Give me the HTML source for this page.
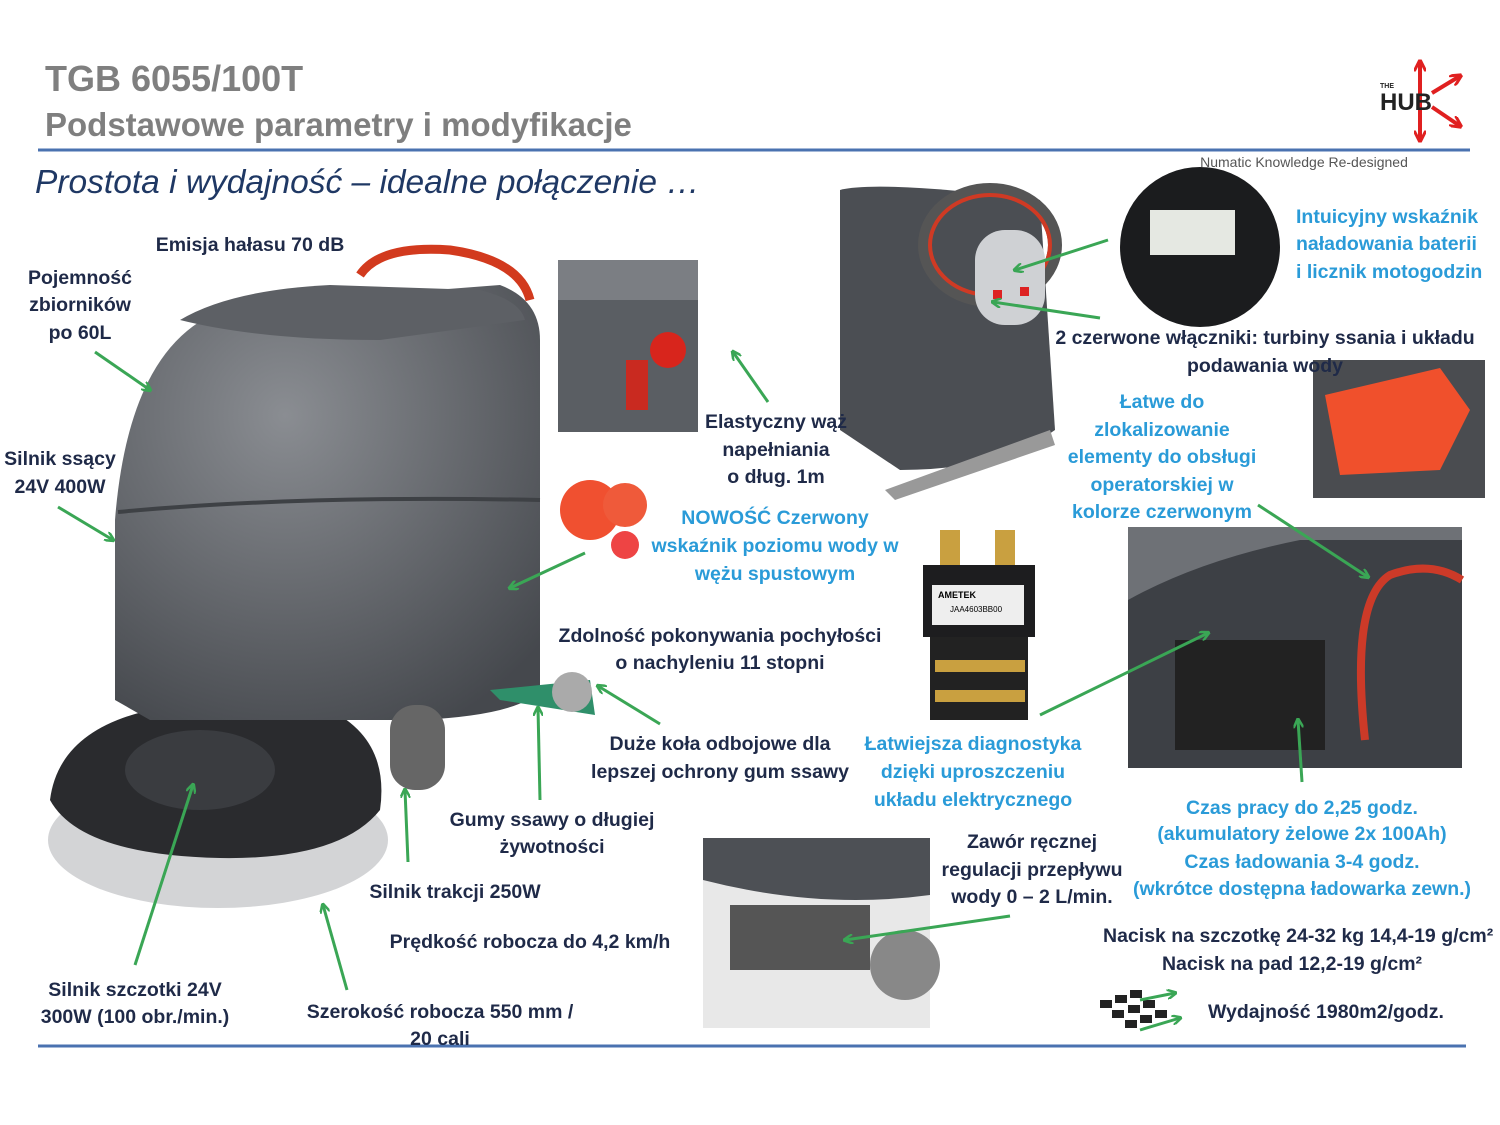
<!DOCTYPE html>
<html><head><meta charset="utf-8"><style>
html,body{margin:0;padding:0;background:#fff;}
svg{display:block;}
text{font-family:"Liberation Sans",sans-serif;}
.d{font-size:19.5px;font-weight:bold;fill:#1f2a48;text-anchor:middle;}
.b{font-size:19.5px;font-weight:bold;fill:#2a9bd8;text-anchor:middle;}
</style></head><body>
<svg width="1500" height="1125" viewBox="0 0 1500 1125" xmlns="http://www.w3.org/2000/svg">
<defs>
<marker id="ah" markerWidth="10" markerHeight="10" refX="8" refY="5" orient="auto" markerUnits="userSpaceOnUse" viewBox="0 0 10 10"><path d="M0,0 L10,5 L0,10" fill="none" stroke="#3aa655" stroke-width="2.5"/></marker>
<marker id="rh" markerWidth="12" markerHeight="12" refX="8" refY="5" orient="auto" markerUnits="userSpaceOnUse" viewBox="0 0 10 10"><path d="M0,0 L10,5 L0,10" fill="none" stroke="#e02020" stroke-width="2.5"/></marker>
<radialGradient id="g1" cx="0.4" cy="0.3" r="0.8"><stop offset="0" stop-color="#8a8d92"/><stop offset="1" stop-color="#45484d"/></radialGradient>
</defs>
<rect width="1500" height="1125" fill="#fff"/>
<text x="45" y="91" style="font-size:36px;font-weight:bold;fill:#7f7f7f">TGB 6055/100T</text>
<text x="45" y="136" style="font-size:33px;font-weight:bold;fill:#7f7f7f">Podstawowe parametry i modyfikacje</text>
<line x1="38" y1="150" x2="1470" y2="150" stroke="#4a72b0" stroke-width="3"/>
<text x="35" y="193" style="font-size:33.5px;font-style:italic;fill:#1f3864">Prostota i wydajność – idealne połączenie …</text>
<text x="1304" y="167" style="font-size:14px;fill:#555;text-anchor:middle">Numatic  Knowledge  Re-designed</text>
<line x1="38" y1="1046" x2="1466" y2="1046" stroke="#4a72b0" stroke-width="3"/>
<g stroke="#e02020" stroke-width="4" fill="none" marker-end="url(#rh)">
<line x1="1420" y1="100" x2="1420" y2="62"/><line x1="1420" y1="100" x2="1420" y2="140"/>
<line x1="1432" y1="93" x2="1460" y2="76"/><line x1="1432" y1="107" x2="1460" y2="126"/>
</g>
<text x="1380" y="110" style="font-size:24px;font-weight:bold;fill:#222">HUB</text>
<text x="1380" y="88" style="font-size:7px;font-weight:bold;fill:#222">THE</text>

<ellipse cx="218" cy="840" rx="170" ry="68" fill="#d3d4d6"/>
<path d="M50,800 Q60,720 180,705 L330,710 Q390,740 380,810 Q340,860 220,858 Q80,855 50,800Z" fill="#2a2b2e"/>
<ellipse cx="200" cy="770" rx="75" ry="40" fill="#3a3c40"/>
<path d="M115,700 L115,520 Q130,330 240,305 L500,285 Q540,300 540,340 L540,690 Q520,715 420,720 L150,720Z" fill="url(#g1)"/>
<path d="M118,512 Q300,495 540,500" fill="none" stroke="#3e4145" stroke-width="4"/>
<path d="M180,320 Q230,290 330,285 L480,290 Q520,300 525,320 L380,340 Q260,340 180,320Z" fill="#5d6065"/>
<path d="M360,275 Q380,245 450,250 Q520,260 530,300" fill="none" stroke="#d23a1e" stroke-width="9"/>
<rect x="390" y="705" width="55" height="85" rx="25" fill="#666"/>
<path d="M490,690 L590,680 L595,715 L500,700Z" fill="#2f8f6a"/>
<circle cx="572" cy="692" r="20" fill="#aaa"/>

<rect x="558" y="260" width="140" height="172" fill="#5a5e63"/>
<rect x="558" y="260" width="140" height="40" fill="#7b7e83"/>
<circle cx="668" cy="350" r="18" fill="#d8251c"/>
<rect x="626" y="360" width="22" height="50" fill="#c92a20"/>
<circle cx="590" cy="510" r="30" fill="#f05030"/><circle cx="625" cy="505" r="22" fill="#ef5a3a"/><circle cx="625" cy="545" r="14" fill="#e44"/>
<path d="M840,190 Q880,180 1040,200 L1055,430 Q1000,470 900,470 L840,430Z" fill="#4b4e53"/>
<ellipse cx="990" cy="245" rx="65" ry="55" fill="none" stroke="#555" stroke-width="14"/>
<ellipse cx="990" cy="245" rx="60" ry="50" fill="none" stroke="#cf3a24" stroke-width="4"/>
<rect x="975" y="230" width="70" height="95" rx="30" fill="#cfd1d4"/>
<rect x="993" y="290" width="9" height="9" fill="#d22"/><rect x="1020" y="287" width="9" height="9" fill="#d22"/>
<path d="M885,490 L1050,430 L1055,445 L895,500Z" fill="#999"/>
<circle cx="1200" cy="247" r="80" fill="#1b1c1e"/>
<rect x="1150" y="210" width="85" height="45" fill="#e5e8e2"/>
<rect x="1313" y="360" width="172" height="138" fill="#4a4c50"/>
<path d="M1325,395 L1440,368 L1470,410 L1440,470 L1340,475Z" fill="#f0502c"/>
<rect x="940" y="530" width="20" height="40" fill="#c9a040"/><rect x="995" y="530" width="20" height="40" fill="#c9a040"/>
<rect x="923" y="565" width="112" height="72" fill="#1d1d1f"/>
<rect x="932" y="585" width="92" height="40" fill="#eee"/>
<text x="938" y="598" style="font-size:9px;font-weight:bold;fill:#000">AMETEK</text>
<text x="950" y="612" style="font-size:8px;fill:#000">JAA4603BB00</text>
<rect x="930" y="637" width="98" height="83" fill="#222"/>
<rect x="935" y="660" width="90" height="12" fill="#c9a040"/><rect x="935" y="690" width="90" height="12" fill="#c9a040"/>
<rect x="1128" y="527" width="334" height="241" fill="#6e7176"/>
<path d="M1128,600 Q1200,560 1300,540 L1462,540 L1462,768 L1128,768Z" fill="#3d4045"/>
<rect x="1175" y="640" width="150" height="110" fill="#222"/>
<path d="M1365,740 Q1350,600 1390,575 Q1430,560 1462,580" fill="none" stroke="#cc3a28" stroke-width="8"/>
<rect x="703" y="838" width="227" height="190" fill="#e8e8e8"/>
<path d="M703,838 L930,838 L930,895 Q820,910 703,880Z" fill="#4d5055"/>
<rect x="730" y="905" width="140" height="65" fill="#555"/>
<circle cx="905" cy="965" r="35" fill="#888"/>
<g fill="#222"><rect x="1100" y="1000" width="12" height="8"/><rect x="1115" y="995" width="12" height="8"/><rect x="1130" y="990" width="12" height="8"/><rect x="1112" y="1010" width="12" height="8"/><rect x="1128" y="1005" width="12" height="8"/><rect x="1143" y="1000" width="12" height="8"/><rect x="1125" y="1020" width="12" height="8"/><rect x="1140" y="1015" width="12" height="8"/><rect x="1155" y="1010" width="12" height="8"/></g>

<g stroke="#3aa655" stroke-width="3" marker-end="url(#ah)" fill="none">
<line x1="95" y1="352" x2="150" y2="390"/>
<line x1="58" y1="507" x2="113" y2="540"/>
<line x1="585" y1="553" x2="510" y2="588"/>
<line x1="768" y1="402" x2="733" y2="352"/>
<line x1="1108" y1="240" x2="1015" y2="270"/>
<line x1="1100" y1="318" x2="993" y2="302"/>
<line x1="660" y1="724" x2="598" y2="686"/>
<line x1="540" y1="800" x2="538" y2="708"/>
<line x1="408" y1="862" x2="405" y2="790"/>
<line x1="135" y1="965" x2="193" y2="785"/>
<line x1="347" y1="990" x2="323" y2="905"/>
<line x1="1040" y1="715" x2="1208" y2="633"/>
<line x1="1302" y1="782" x2="1298" y2="720"/>
<line x1="1258" y1="505" x2="1368" y2="577"/>
<line x1="1010" y1="916" x2="845" y2="940"/>
<line x1="1140" y1="1000" x2="1175" y2="993"/>
<line x1="1140" y1="1030" x2="1180" y2="1018"/>
</g>

<text class="d" x="250" y="251">Emisja hałasu 70 dB</text>
<text class="d" x="80" y="284">Pojemność</text><text class="d" x="80" y="311">zbiorników</text><text class="d" x="80" y="339">po 60L</text>
<text class="d" x="60" y="465">Silnik ssący</text><text class="d" x="60" y="493">24V 400W</text>
<text class="d" x="776" y="428">Elastyczny wąż</text><text class="d" x="776" y="456">napełniania</text><text class="d" x="776" y="483">o dług. 1m</text>
<text class="b" x="775" y="524">NOWOŚĆ Czerwony</text><text class="b" x="775" y="552">wskaźnik poziomu wody w</text><text class="b" x="775" y="580">wężu spustowym</text>
<text class="d" x="720" y="642">Zdolność pokonywania pochyłości</text><text class="d" x="720" y="669">o nachyleniu 11 stopni</text>
<text class="d" x="720" y="750">Duże koła odbojowe dla</text><text class="d" x="720" y="778">lepszej ochrony gum ssawy</text>
<text class="b" x="973" y="750">Łatwiejsza diagnostyka</text><text class="b" x="973" y="778">dzięki uproszczeniu</text><text class="b" x="973" y="806">układu elektrycznego</text>
<text class="d" x="552" y="826">Gumy ssawy o długiej</text><text class="d" x="552" y="853">żywotności</text>
<text class="d" x="455" y="898">Silnik trakcji 250W</text>
<text class="d" x="530" y="948">Prędkość robocza do 4,2 km/h</text>
<text class="d" x="135" y="996">Silnik szczotki 24V</text><text class="d" x="135" y="1023">300W (100 obr./min.)</text>
<text class="d" x="440" y="1018">Szerokość robocza 550 mm /</text><text class="d" x="440" y="1045">20 cali</text>
<text class="d" x="1032" y="848">Zawór ręcznej</text><text class="d" x="1032" y="876">regulacji przepływu</text><text class="d" x="1032" y="903">wody  0 – 2 L/min.</text>
<text class="b" x="1302" y="814">Czas pracy do 2,25 godz.</text><text class="b" x="1302" y="840">(akumulatory żelowe 2x 100Ah)</text><text class="b" x="1302" y="868">Czas ładowania 3-4 godz.</text><text class="b" x="1302" y="895">(wkrótce dostępna ładowarka zewn.)</text>
<text class="d" x="1103" y="942" style="text-anchor:start">Nacisk na szczotkę 24-32 kg 14,4-19 g/cm²</text>
<text class="d" x="1292" y="970">Nacisk na pad 12,2-19 g/cm²</text>
<text class="d" x="1208" y="1018" style="text-anchor:start">Wydajność 1980m2/godz.</text>
<text class="b" x="1296" y="223" style="text-anchor:start">Intuicyjny wskaźnik</text><text class="b" x="1296" y="250" style="text-anchor:start">naładowania baterii</text><text class="b" x="1296" y="278" style="text-anchor:start">i licznik motogodzin</text>
<text class="d" x="1265" y="344">2 czerwone włączniki: turbiny ssania i układu</text><text class="d" x="1265" y="372">podawania wody</text>
<text class="b" x="1162" y="408">Łatwe do</text><text class="b" x="1162" y="436">zlokalizowanie</text><text class="b" x="1162" y="463">elementy do obsługi</text><text class="b" x="1162" y="491">operatorskiej w</text><text class="b" x="1162" y="518">kolorze czerwonym</text>
</svg>
</body></html>
